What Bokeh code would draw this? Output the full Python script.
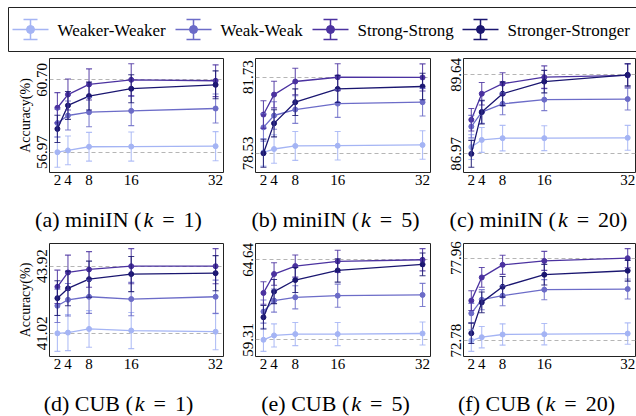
from bokeh.plotting import figure
from bokeh.models import (ColumnDataSource, Range1d, FixedTicker, PrintfTickFormatter,
                          Whisker, TeeHead)
from bokeh.layouts import column, row
from bokeh.embed import file_html
from bokeh.resources import INLINE
from bokeh.core.properties import value

shots = [2, 4, 8, 16, 32]
series_names = ["Weaker-Weaker", "Weak-Weak", "Strong-Strong", "Stronger-Stronger"]
series_colors = ["#a4b4f4", "#6c6cc8", "#4b32a0", "#1a1670"]

# (a) miniIN, k = 1
a_weaker = [56.97, 57.06, 57.25, 57.26, 57.28]
a_weak = [58.47, 58.86, 59.03, 59.10, 59.22]
a_strong = [59.26, 59.94, 60.46, 60.70, 60.65]
a_stronger = [58.17, 59.38, 59.86, 60.24, 60.44]
a_weaker_err = [0.78, 0.74, 0.74, 0.75, 0.75]
a_weak_err = [0.72, 0.75, 0.75, 0.76, 0.75]
a_strong_err = [0.78, 0.80, 0.80, 0.83, 0.82]
a_stronger_err = [0.70, 0.72, 0.72, 0.72, 0.72]
a_ticks = [56.97, 60.70]

# (b) miniIN, k = 5
b_weaker = [78.57, 78.71, 78.84, 78.85, 78.88]
b_weak = [79.62, 80.12, 80.37, 80.62, 80.68]
b_strong = [80.16, 81.00, 81.55, 81.73, 81.72]
b_stronger = [78.53, 79.79, 80.68, 81.24, 81.34]
b_weaker_err = [0.58, 0.60, 0.61, 0.60, 0.60]
b_weak_err = [0.58, 0.58, 0.58, 0.58, 0.58]
b_strong_err = [0.58, 0.56, 0.56, 0.57, 0.57]
b_stronger_err = [0.59, 0.57, 0.56, 0.57, 0.56]
b_ticks = [78.53, 81.73]

# (c) miniIN, k = 20
c_weaker = [87.20, 87.44, 87.50, 87.50, 87.51]
c_weak = [87.89, 88.38, 88.66, 88.80, 88.82]
c_strong = [88.12, 89.00, 89.34, 89.56, 89.62]
c_stronger = [86.97, 88.38, 89.00, 89.41, 89.64]
c_weaker_err = [0.42, 0.42, 0.43, 0.42, 0.42]
c_weak_err = [0.38, 0.38, 0.37, 0.37, 0.37]
c_strong_err = [0.38, 0.38, 0.37, 0.38, 0.39]
c_stronger_err = [0.455, 0.40, 0.40, 0.38, 0.375]
c_ticks = [86.97, 89.64]

# (d) CUB, k = 1
d_weaker = [41.02, 41.05, 41.21, 41.14, 41.09]
d_weak = [42.21, 42.47, 42.60, 42.50, 42.60]
d_strong = [43.03, 43.65, 43.78, 43.92, 43.92]
d_stronger = [42.54, 42.96, 43.36, 43.58, 43.62]
d_weaker_err = [0.78, 0.78, 0.79, 0.78, 0.78]
d_weak_err = [0.72, 0.70, 0.72, 0.72, 0.72]
d_strong_err = [0.72, 0.75, 0.77, 0.76, 0.76]
d_stronger_err = [0.75, 0.75, 0.78, 0.76, 0.76]
d_ticks = [41.02, 43.92]

# (e) CUB, k = 5
e_weaker = [59.31, 59.60, 59.69, 59.69, 59.73]
e_weak = [61.19, 61.92, 62.14, 62.25, 62.30]
e_strong = [62.43, 63.69, 64.22, 64.53, 64.64]
e_stronger = [60.81, 62.52, 63.29, 63.93, 64.33]
e_weaker_err = [0.77, 0.77, 0.77, 0.77, 0.77]
e_weak_err = [0.77, 0.77, 0.77, 0.77, 0.77]
e_strong_err = [0.75, 0.75, 0.74, 0.74, 0.74]
e_stronger_err = [0.78, 0.80, 0.83, 0.78, 0.76]
e_ticks = [59.31, 64.64]

# (f) CUB, k = 20
f_weaker = [72.78, 72.99, 73.16, 73.18, 73.22]
f_weak = [74.49, 75.35, 75.60, 75.98, 76.02]
f_strong = [75.29, 76.75, 77.54, 77.79, 77.96]
f_stronger = [73.24, 75.18, 76.16, 76.92, 77.17]
f_weaker_err = [0.68, 0.67, 0.67, 0.67, 0.67]
f_weak_err = [0.63, 0.63, 0.63, 0.63, 0.63]
f_strong_err = [0.62, 0.62, 0.60, 0.60, 0.60]
f_stronger_err = [0.65, 0.65, 0.65, 0.65, 0.65]
f_ticks = [72.78, 77.96]

captions_top = [("(a) miniIN (", "1"), ("(b) miniIN (", "5"), ("(c) miniIN (", "20")]
captions_bottom = [("(d) CUB (", "1"), ("(e) CUB (", "5"), ("(f) CUB (", "20")]

SERIF = "Liberation Serif"
PAGE_W = 636


def make_panel(means, errs, ticks, width, height, mb_left, mb_right, mb_top, mb_bottom, ylabel=None):
    lo = min(min(m - e for m, e in zip(ms, es)) for ms, es in zip(means, errs))
    hi = max(max(m + e for m, e in zip(ms, es)) for ms, es in zip(means, errs))
    pad = 0.05 * (hi - lo)
    xpad = 0.05 * (max(shots) - min(shots))
    p = figure(width=width, height=height, title=None,
               x_range=Range1d(min(shots) - xpad, max(shots) + xpad),
               y_range=Range1d(lo - pad, hi + pad),
               toolbar_location=None, output_backend="svg",
               min_border_left=mb_left, min_border_right=mb_right,
               min_border_top=mb_top, min_border_bottom=mb_bottom)
    p.background_fill_color = "white"
    p.border_fill_color = "white"
    p.outline_line_color = "#222222"
    p.outline_line_width = 1
    p.xgrid.visible = False
    p.ygrid.ticker = FixedTicker(ticks=ticks)
    p.ygrid.grid_line_color = "#b5b5b5"
    p.ygrid.grid_line_dash = "4 3"
    p.ygrid.grid_line_width = 1
    p.xaxis.ticker = FixedTicker(ticks=shots)
    p.yaxis.ticker = FixedTicker(ticks=ticks)
    p.yaxis.formatter = PrintfTickFormatter(format="%.2f")
    p.yaxis.major_label_orientation = "vertical"
    for ax in (p.xaxis, p.yaxis):
        ax.axis_line_color = None
        ax.major_tick_out = 0
        ax.major_tick_in = 0
        ax.minor_tick_out = 0
        ax.minor_tick_in = 0
        ax.major_label_text_font = SERIF
        ax.major_label_text_font_size = "15px"
        ax.major_label_text_color = "black"
        ax.major_label_standoff = 2
    if ylabel:
        p.yaxis.axis_label = ylabel
        p.yaxis.axis_label_text_font = SERIF
        p.yaxis.axis_label_text_font_size = "14px"
        p.yaxis.axis_label_text_font_style = "normal"
        p.yaxis.axis_label_text_color = "black"
        p.yaxis.axis_label_standoff = 2
    for ms, es, col in zip(means, errs, series_colors):
        src = ColumnDataSource(data=dict(
            x=shots, y=ms,
            lower=[m - e for m, e in zip(ms, es)],
            upper=[m + e for m, e in zip(ms, es)]))
        wk = Whisker(source=src, base="x", upper="upper", lower="lower",
                     line_color=col, line_width=1.1, line_alpha=0.85, level="glyph",
                     upper_head=TeeHead(size=6, line_color=col, line_width=1.1, line_alpha=0.85),
                     lower_head=TeeHead(size=6, line_color=col, line_width=1.1, line_alpha=0.85))
        p.add_layout(wk)
        p.line(x="x", y="y", source=src, line_color=col, line_width=1.3)
        p.scatter(x="x", y="y", source=src, marker="circle", size=5,
                  fill_color=col, line_color=col)
    return p


def blank_fig(height):
    f = figure(width=PAGE_W, height=height, title=None,
               x_range=Range1d(0, PAGE_W), y_range=Range1d(height, 0),
               toolbar_location=None, output_backend="svg", min_border=0,
               x_axis_location=None, y_axis_location=None)
    f.outline_line_color = None
    f.grid.visible = False
    f.background_fill_color = "white"
    f.border_fill_color = "white"
    return f


# ---- legend (drawn as a boxed key above the panels) ----
LEG_H = 55
legend_x = [12, 175, 312, 462]
lf = blank_fig(LEG_H)
lf.quad(left=[8], right=[PAGE_W + 10], top=[7], bottom=[51], fill_color=None,
        line_color="#222222", line_width=1)
for name, col, sx in zip(series_names, series_colors, legend_x):
    cx = sx + 18
    lf.segment(x0=[sx], y0=[29], x1=[sx + 36], y1=[29], line_color=col, line_width=1.5)
    lf.segment(x0=[cx, cx - 7, cx - 7], y0=[19, 19, 39], x1=[cx, cx + 7, cx + 7], y1=[39, 19, 39],
               line_color=col, line_width=1.5)
    lf.scatter(x=[cx], y=[29], marker="circle", size=8, fill_color=col, line_color=col)
    lf.text(x=[sx + 45], y=[30], text=[name], text_font=value(SERIF),
            text_font_size=value("17px"), text_align="left", text_baseline="middle",
            text_color="black")

# ---- panels ----
H = 141
pa = make_panel([a_weaker, a_weak, a_strong, a_stronger],
                [a_weaker_err, a_weak_err, a_strong_err, a_stronger_err], a_ticks,
                225, H, 49, 2, 3, 24, ylabel="Accuracy(%)")
pb = make_panel([b_weaker, b_weak, b_strong, b_stronger],
                [b_weaker_err, b_weak_err, b_strong_err, b_stronger_err], b_ticks,
                207, H, 30, 2, 3, 24)
pc = make_panel([c_weaker, c_weak, c_strong, c_stronger],
                [c_weaker_err, c_weak_err, c_strong_err, c_stronger_err], c_ticks,
                204, H, 31, 1, 3, 24)
pd = make_panel([d_weaker, d_weak, d_strong, d_stronger],
                [d_weaker_err, d_weak_err, d_strong_err, d_stronger_err], d_ticks,
                225, H, 49, 2, 4, 24, ylabel="Accuracy(%)")
pe = make_panel([e_weaker, e_weak, e_strong, e_stronger],
                [e_weaker_err, e_weak_err, e_strong_err, e_stronger_err], e_ticks,
                207, H, 30, 2, 4, 24)
pf = make_panel([f_weaker, f_weak, f_strong, f_stronger],
                [f_weaker_err, f_weak_err, f_strong_err, f_stronger_err], f_ticks,
                204, H, 31, 1, 4, 24)

# ---- captions ----
CW = {"(": .333, ")": .333, " ": .25, "a": .444, "b": .5, "c": .444, "d": .5, "e": .444,
      "f": .333, "m": .778, "i": .278, "n": .5, "I": .333, "N": .722, "C": .667,
      "U": .722, "B": .667, "=": .564}
CAP_FS = 22


def tw(s):
    return sum(CW.get(ch, 0.5) for ch in s) * CAP_FS


def caption_fig(caps, centers, height, mid):
    c = blank_fig(height)
    for (prefix, num), cx in zip(caps, centers):
        wp, wk, we, wn = tw(prefix), 0.444 * CAP_FS, tw("="), tw(num + ")")
        total = wp + 2 + wk + 9 + we + 9 + wn
        x0 = cx - total / 2
        xs = [x0, x0 + wp + 2, x0 + wp + 2 + wk + 9, x0 + wp + 2 + wk + 9 + we + 9]
        texts = [prefix, "k", "=", num + ")"]
        styles = ["normal", "italic", "normal", "normal"]
        for x, t, st in zip(xs, texts, styles):
            c.text(x=[x], y=[mid], text=[t], text_font=value(SERIF),
                   text_font_size=value(f"{CAP_FS}px"), text_font_style=st,
                   text_align="left", text_baseline="middle", text_color="black")
    return c


cap1 = caption_fig(captions_top, [118, 335, 538], 43, 23)
cap2 = caption_fig(captions_bottom, [118, 335, 536], 36, 23)

layout = column(lf, row(pa, pb, pc), cap1, row(pd, pe, pf), cap2)

with open("out.html", "w") as fh:
    fh.write(file_html(layout, INLINE))
